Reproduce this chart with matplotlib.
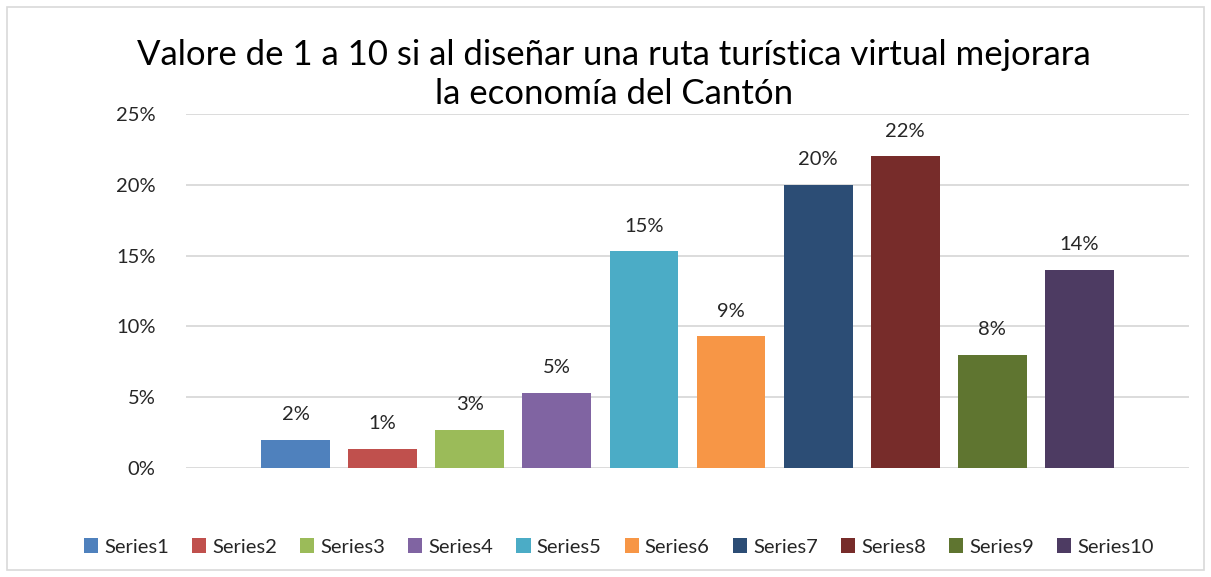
import matplotlib
matplotlib.use("Agg")
import matplotlib.pyplot as plt
from matplotlib.patches import Rectangle
from matplotlib.ticker import FuncFormatter

# data (percent)
series = ["Series1", "Series2", "Series3", "Series4", "Series5",
          "Series6", "Series7", "Series8", "Series9", "Series10"]
values = [2.0, 1.35, 2.7, 5.3, 15.3, 9.3, 20.0, 22.0, 8.0, 14.0]
colors = ["#4F81BD", "#C0504D", "#9BBB59", "#8064A2", "#4BACC6",
          "#F79646", "#2C4D75", "#772C2A", "#5F7530", "#4D3B62"]
yticks = [0, 5, 10, 15, 20, 25]

TITLE = "Valore de 1 a 10 si al diseñar una ruta turística virtual mejorara\nla economía del Cantón"

plt.rcParams["font.family"] = ["Lato", "DejaVu Sans"]
INK = "#262626"
GRID = "#D9D9D9"

fig = plt.figure(figsize=(12.11, 5.77), dpi=100)
fig.patch.set_facecolor("white")
fig.add_artist(Rectangle((0.006, 0.012), 0.988, 0.976, transform=fig.transFigure,
                         fill=False, edgecolor=GRID, lw=1.2))

ax = fig.add_axes([0.1536, 0.1889, 0.8282, 0.6135])
handles = []
for i, (name, val, c) in enumerate(zip(series, values, colors)):
    b = ax.bar(i, val, width=0.79, color=c, label=name, zorder=3)
    handles.append(b)
    ax.annotate(f"{val:.0f}%", (i, val), xytext=(0, 18), textcoords="offset points",
                ha="center", va="center", fontsize=14.5, color=INK)

ax.set_xlim(-1.257, 10.257)
ax.set_ylim(0, 25)
ax.set_yticks(yticks)
ax.yaxis.set_major_formatter(FuncFormatter(lambda v, p: f"{v:.0f}%"))
ax.tick_params(axis="y", length=0, pad=22, labelsize=14.5, labelcolor=INK)
ax.set_xticks([])
ax.grid(axis="y", color=GRID, lw=1.3, zorder=0)
for s in ax.spines.values():
    s.set_visible(False)

fig.text(0.507, 0.871, TITLE, ha="center", va="center", fontsize=25,
         color="black", linespacing=1.3)

fig.legend(handles=handles, labels=series, loc="center", bbox_to_anchor=(0.511, 0.052),
           ncol=10, frameon=False, fontsize=14.5, handlelength=0.7, handleheight=0.7,
           handletextpad=0.3, columnspacing=1.15, labelcolor=INK)

fig.savefig("out.png", dpi=100, facecolor="white")
